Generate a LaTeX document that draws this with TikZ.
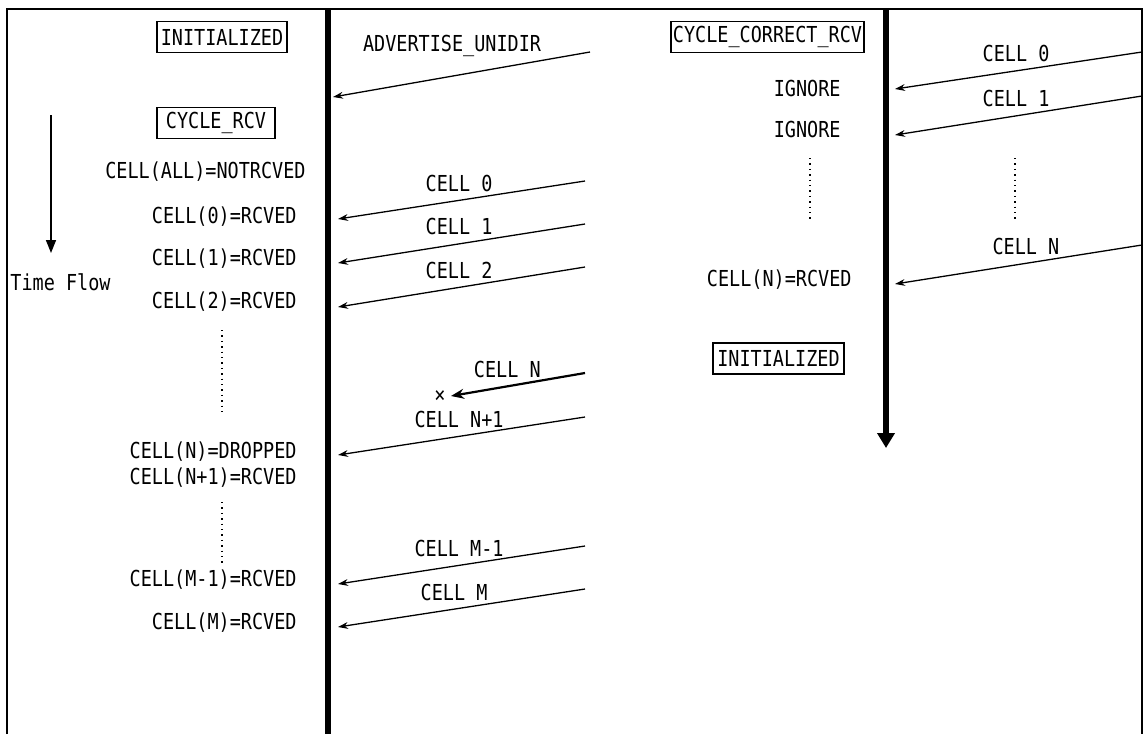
\documentclass[tikz,border=0pt]{standalone}
\usepackage{fontspec}
\setmonofont[FakeStretch=0.84]{DejaVu Sans Mono}
\usepackage{tikz}
\usetikzlibrary{arrows.meta, positioning, calc}
\newcommand{\diagfont}{\fontsize{11}{13}\selectfont\ttfamily}

\tikzset{
    msg/.style={-{Stealth[length=5pt, width=3.4pt]}, line width=0.65pt},
    lbl/.style={font=\diagfont, inner sep=0pt, yshift=8.5pt},
    txt/.style={font=\diagfont, inner sep=0pt},
    statebox/.style={draw, line width=0.7pt, font=\diagfont, inner sep=0pt, minimum height=15.5pt},
    dots/.style={dotted, line width=0.7pt}
}

\begin{document}
\begin{tikzpicture}[x=0.5pt, y=-0.5pt]
        \useasboundingbox (0,0) rectangle (1144,734);
        % Frame
        \draw[line width=1.1pt] (7,734) -- (7,9) -- (1142,9) -- (1142,734);
        
        % Lifelines
        \coordinate (lifeA-top) at (328,9);
        \coordinate (lifeA-bot) at (328,734);
        \coordinate (lifeB-top) at (886,9);
        \coordinate (lifeB-bot) at (886,448);
        \draw[line width=3pt] (lifeA-top) -- (lifeA-bot);
        \draw[line width=3pt, -{Triangle[width=8.5pt, length=7.5pt]}] (lifeB-top) -- (lifeB-bot);
        
        % Time flow
        \coordinate (time-s) at (51,115);
        \coordinate (time-e) at (51,253);
        \draw[line width=0.75pt, -{Triangle[width=5pt, length=6.5pt]}] (time-s) -- (time-e);
        \node[txt, anchor=west] (timeflow) at (10,282) {Time Flow};
        
        % Left states
        \node[statebox, minimum width=65pt] (init) at (222,37) {INITIALIZED};
        \node[statebox, minimum width=59pt] (cycrcv) at (216,123) {CYCLE\_RCV};
        \node[txt, anchor=east] (all) at (306,172) {CELL(ALL)=NOTRCVED};
        \node[txt, anchor=east] (rc0) at (297,217) {CELL(0)=RCVED};
        \node[txt, anchor=east] (rc1) at (297,259) {CELL(1)=RCVED};
        \node[txt, anchor=east] (rc2) at (297,302) {CELL(2)=RCVED};
        \node[txt, anchor=east] (drop) at (297,452) {CELL(N)=DROPPED};
        \node[txt, anchor=east] (rcn1) at (297,478) {CELL(N+1)=RCVED};
        \node[txt, anchor=east] (rcm1) at (297,580) {CELL(M-1)=RCVED};
        \node[txt, anchor=east] (rcm) at (297,623) {CELL(M)=RCVED};
        \draw[dots] (222,330) -- (222,416);
        \draw[dots] (222,502) -- (222,565);
        
        % Messages to left lifeline
        \coordinate (adv-s) at (590,52);
        \coordinate (adv-e) at (333,97);
        \draw[msg] (adv-s) -- (adv-e);
        \node[txt] (adv) at (452,46) {ADVERTISE\_UNIDIR};
        
        \coordinate (c0-s) at (585,181);
        \coordinate (c0-e) at (338,219);
        \draw[msg] (c0-s) -- node[lbl, pos=0.51] {CELL 0} (c0-e);
        \coordinate (c1-s) at (585,224);
        \coordinate (c1-e) at (338,263);
        \draw[msg] (c1-s) -- node[lbl, pos=0.51] {CELL 1} (c1-e);
        \coordinate (c2-s) at (585,267);
        \coordinate (c2-e) at (338,307);
        \draw[msg] (c2-s) -- node[lbl, pos=0.51] {CELL 2} (c2-e);
        
        % Dropped cell
        \coordinate (cn-s) at (585,373);
        \coordinate (cn-e) at (451,396);
        \draw[-{Stealth[length=6.5pt, width=5pt]}, line width=1.1pt] (cn-s) -- node[lbl, pos=0.58] {CELL N} (cn-e);
        \node[txt] (lost) at (440,397) {×};
        
        \coordinate (cn1-s) at (585,417);
        \coordinate (cn1-e) at (338,455);
        \draw[msg] (cn1-s) -- node[lbl, pos=0.51] {CELL N+1} (cn1-e);
        \coordinate (cm1-s) at (585,546);
        \coordinate (cm1-e) at (338,584);
        \draw[msg] (cm1-s) -- node[lbl, pos=0.51] {CELL M-1} (cm1-e);
        \coordinate (cm-s) at (585,589);
        \coordinate (cm-e) at (338,627);
        \draw[msg] (cm-s) -- node[lbl, pos=0.53] {CELL M} (cm-e);
        
        % Right states
        \node[statebox, minimum width=96.5pt] (cyccor) at (767.5,37) {CYCLE\_CORRECT\_RCV};
        \node[txt, anchor=east] (ign0) at (841,88) {IGNORE};
        \node[txt, anchor=east] (ign1) at (841,129) {IGNORE};
        \node[txt, anchor=east] (rcn) at (852,280) {CELL(N)=RCVED};
        \node[statebox, minimum width=65.5pt] (init2) at (778.5,358.5) {INITIALIZED};
        \draw[dots] (810,158) -- (810,220);
        \draw[dots] (1015,158) -- (1015,220);
        
        % Messages to right lifeline
        \coordinate (r0-s) at (1142,52);
        \coordinate (r0-e) at (895,89);
        \draw[msg] (r0-s) -- node[lbl, pos=0.51] {CELL 0} (r0-e);
        \coordinate (r1-s) at (1142,96);
        \coordinate (r1-e) at (895,135);
        \draw[msg] (r1-s) -- node[lbl, pos=0.51] {CELL 1} (r1-e);
        \coordinate (rn-s) at (1142,245);
        \coordinate (rn-e) at (895,284);
        \draw[msg] (rn-s) -- node[lbl, pos=0.47] {CELL N} (rn-e);
    \end{tikzpicture}
\end{document}
